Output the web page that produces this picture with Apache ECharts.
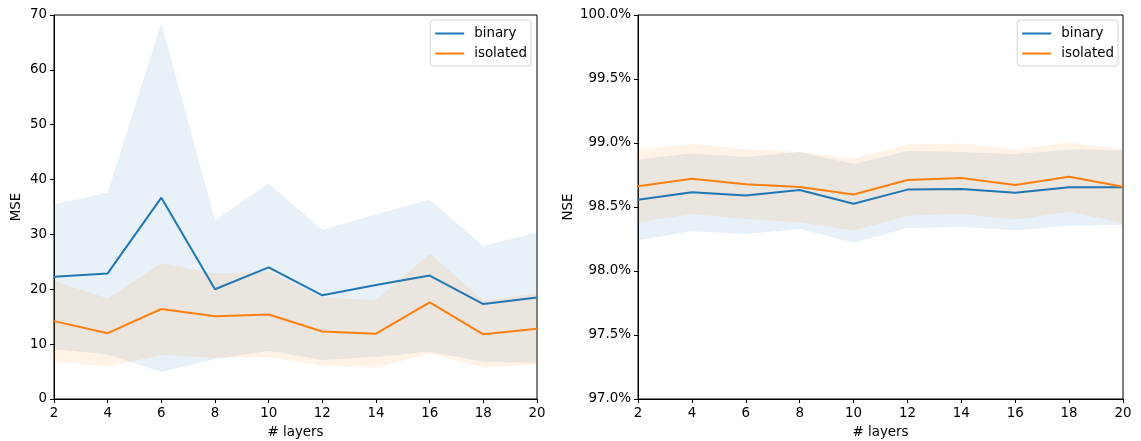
<!DOCTYPE html>
<html>
<head>
<meta charset="utf-8">
<script src="https://cdn.jsdelivr.net/npm/echarts@6/dist/echarts.min.js"></script>
<style>
  html, body { margin: 0; padding: 0; background: #fff; }
  #chart { width: 1141px; height: 441px; }
</style>
</head>
<body>
<div id="chart"></div>
<script>
// Number of layers on the x axis
const layers = ['2', '4', '6', '8', '10', '12', '14', '16', '18', '20'];

// MSE: mean and spread band per model
const mseBinary      = [22.3, 22.9, 36.7, 20.0, 24.0, 18.9, 20.8, 22.5, 17.3, 18.5];
const mseBinaryLow   = [9.1, 8.1, 4.9, 7.3, 8.8, 7.1, 7.7, 8.6, 6.8, 6.6];
const mseBinaryHigh  = [35.5, 37.6, 68.6, 32.6, 39.3, 30.8, 33.7, 36.3, 27.9, 30.4];
const mseIsolated     = [14.2, 12.0, 16.4, 15.1, 15.4, 12.3, 11.9, 17.6, 11.8, 12.8];
const mseIsolatedLow  = [6.9, 5.9, 8.0, 7.5, 7.6, 6.1, 5.7, 8.3, 5.7, 6.3];
const mseIsolatedHigh = [21.5, 18.3, 24.7, 22.9, 23.2, 18.5, 18.0, 26.5, 18.0, 19.3];

// NSE in percent: mean and spread band per model
const nseBinary      = [98.556, 98.615, 98.589, 98.633, 98.525, 98.636, 98.641, 98.612, 98.654, 98.654];
const nseBinaryLow   = [98.240, 98.310, 98.290, 98.329, 98.220, 98.336, 98.344, 98.318, 98.354, 98.362];
const nseBinaryHigh  = [98.871, 98.918, 98.891, 98.930, 98.835, 98.938, 98.930, 98.912, 98.949, 98.943];
const nseIsolated     = [98.662, 98.721, 98.677, 98.657, 98.597, 98.711, 98.726, 98.672, 98.736, 98.659];
const nseIsolatedLow  = [98.380, 98.445, 98.406, 98.380, 98.316, 98.432, 98.447, 98.400, 98.465, 98.375];
const nseIsolatedHigh = [98.949, 98.995, 98.951, 98.930, 98.879, 98.988, 98.995, 98.949, 99.003, 98.949];

// Tick settings for the two value axes
const mseTicks = { min: 0, max: 70, interval: 10 };
const nseTicks = { min: 97, max: 100, interval: 0.5 };

const BLUE = '#1f77b4';
const ORANGE = '#ff7f0e';
const FONT = 'DejaVu Sans';
const FONT_SIZE = 13.4;

function band(name, idx, low, high, fill) {
  const stack = name + '-' + idx;
  return [
    {
      name: name + '-lo', type: 'line', xAxisIndex: idx, yAxisIndex: idx,
      stack: stack, data: low, symbol: 'none', silent: true,
      lineStyle: { opacity: 0 }, z: 1
    },
    {
      name: name + '-hi', type: 'line', xAxisIndex: idx, yAxisIndex: idx,
      stack: stack, data: high.map((h, i) => +(h - low[i]).toFixed(4)),
      symbol: 'none', silent: true,
      lineStyle: { opacity: 0 }, areaStyle: { color: fill, opacity: 1 }, z: 1
    }
  ];
}

function line(name, idx, data, color) {
  return {
    name: name, type: 'line', xAxisIndex: idx, yAxisIndex: idx,
    data: data, symbol: 'none', color: color,
    lineStyle: { color: color, width: 2 }, z: 3
  };
}

const axisText = { color: '#000', fontFamily: FONT, fontSize: FONT_SIZE };

function xAxisFor(idx) {
  return {
    type: 'category', gridIndex: idx, data: layers, boundaryGap: false,
    name: '# layers', nameLocation: 'middle', nameGap: 27,
    nameTextStyle: axisText,
    axisLine: { lineStyle: { color: '#000', width: 1 } },
    axisTick: { show: true, length: 4, lineStyle: { color: '#000' } },
    axisLabel: Object.assign({ interval: 0, margin: 8 }, axisText),
    splitLine: { show: false }
  };
}

function yAxisFor(idx, ticks, name, gap, fmt) {
  return Object.assign({
    type: 'value', gridIndex: idx,
    name: name, nameLocation: 'middle', nameGap: gap, nameRotate: 90,
    nameTextStyle: axisText,
    axisLine: { show: true, lineStyle: { color: '#000', width: 1 } },
    axisTick: { show: true, length: 4, lineStyle: { color: '#000' } },
    axisLabel: Object.assign({ margin: 7, formatter: fmt }, axisText),
    splitLine: { show: false }
  }, ticks);
}

function legendFor(right) {
  return {
    data: ['binary', 'isolated'], orient: 'vertical',
    right: right, top: 20,
    icon: 'rect', itemWidth: 29, itemHeight: 2, itemGap: 7,
    padding: [7, 4, 6, 5],
    borderColor: '#d5d5d5', borderWidth: 1, borderRadius: 3,
    backgroundColor: 'rgba(255,255,255,0.8)',
    textStyle: { color: '#000', fontFamily: FONT, fontSize: FONT_SIZE, padding: [0, 0, 0, 5] }
  };
}

const gridBase = {
  top: 15, height: 384, show: true, borderColor: '#000', borderWidth: 1,
  backgroundColor: 'transparent', containLabel: false, outerBoundsMode: 'none'
};

const chart = echarts.init(document.getElementById('chart'), null, { renderer: 'canvas' });
chart.setOption({
  animation: false,
  backgroundColor: '#fff',
  grid: [
    Object.assign({ left: 54, width: 483 }, gridBase),
    Object.assign({ left: 638, width: 485 }, gridBase)
  ],
  legend: [legendFor(610), legendFor(23)],
  xAxis: [xAxisFor(0), xAxisFor(1)],
  yAxis: [
    yAxisFor(0, mseTicks, 'MSE', 31, v => String(v)),
    yAxisFor(1, nseTicks, 'NSE', 63, v => v.toFixed(1) + '%')
  ],
  series: [].concat(
    band('binary', 0, mseBinaryLow, mseBinaryHigh, 'rgba(31,119,180,0.1)'),
    band('isolated', 0, mseIsolatedLow, mseIsolatedHigh, 'rgba(255,127,14,0.1)'),
    [line('binary', 0, mseBinary, BLUE), line('isolated', 0, mseIsolated, ORANGE)],
    band('binary', 1, nseBinaryLow, nseBinaryHigh, 'rgba(31,119,180,0.1)'),
    band('isolated', 1, nseIsolatedLow, nseIsolatedHigh, 'rgba(255,127,14,0.1)'),
    [line('binary', 1, nseBinary, BLUE), line('isolated', 1, nseIsolated, ORANGE)]
  )
});
</script>
</body>
</html>
